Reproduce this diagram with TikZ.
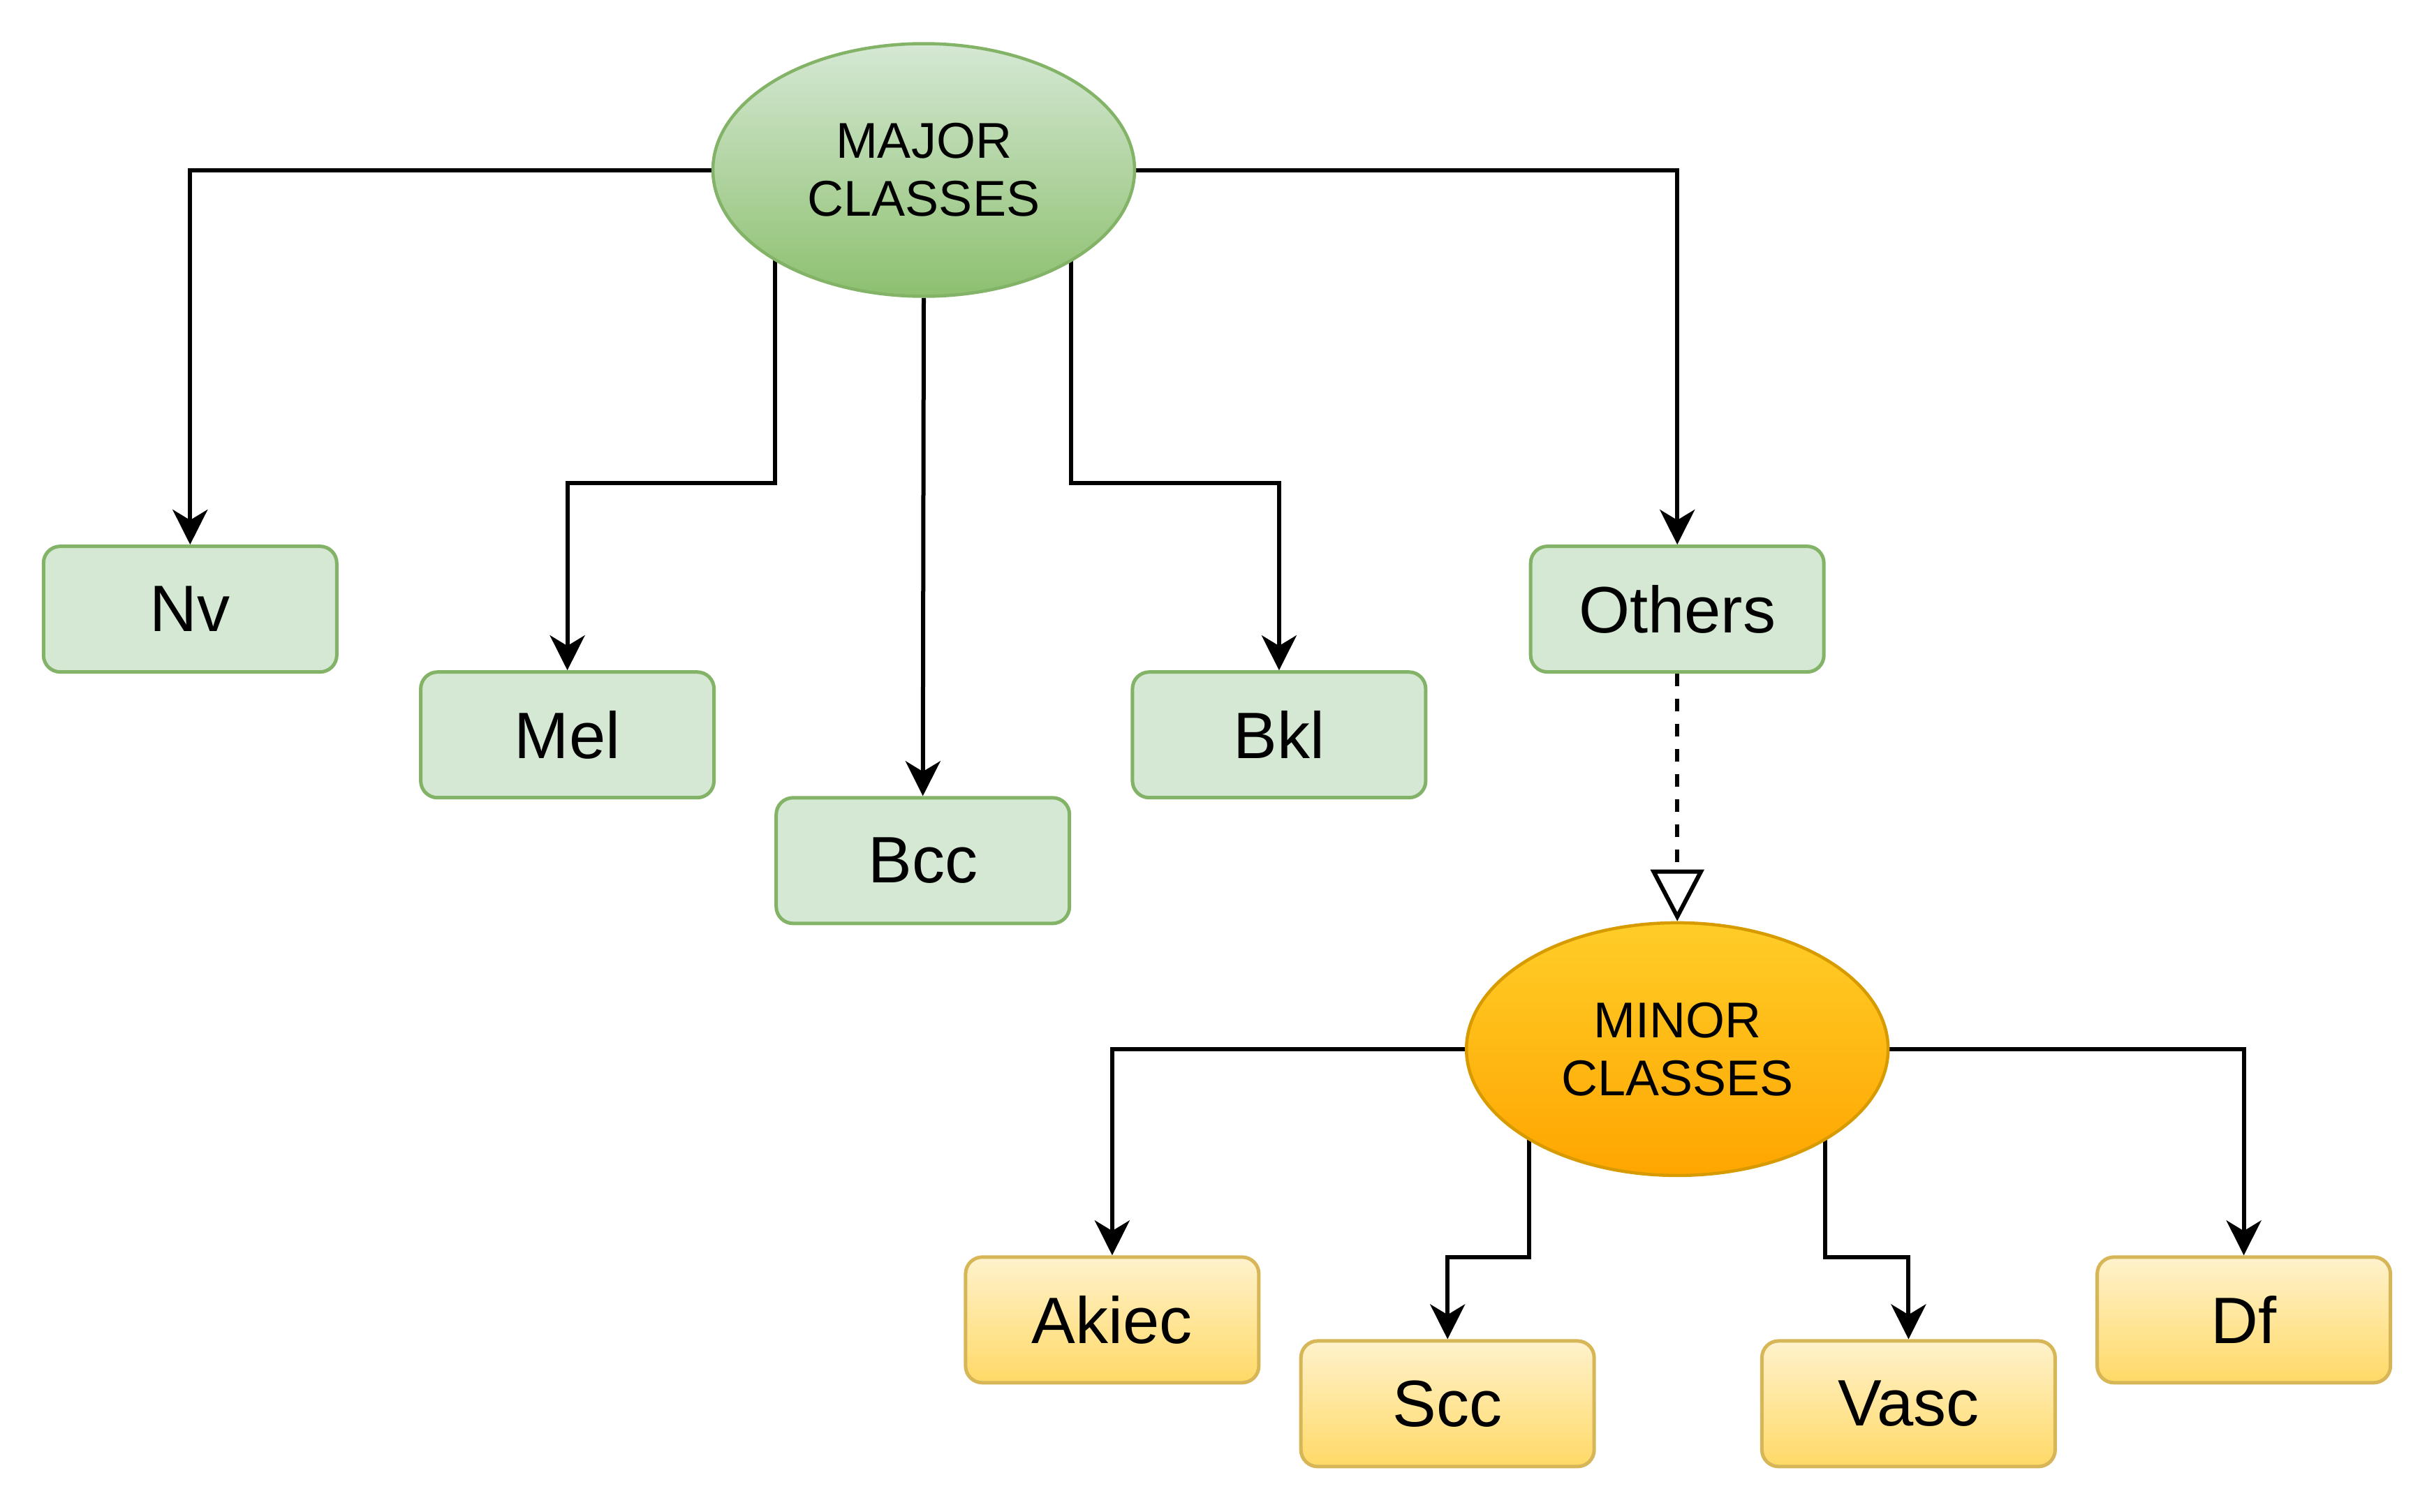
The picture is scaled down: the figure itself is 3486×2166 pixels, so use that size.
\documentclass[tikz,border=0pt]{standalone}
\usepackage{fontspec}
\setmainfont{Liberation Sans}
\usetikzlibrary{arrows.meta,shapes.geometric,backgrounds}
\definecolor{gfill}{HTML}{D5E8D4}
\definecolor{gstroke}{HTML}{82B366}
\definecolor{ggrad}{HTML}{8DC06F}
\definecolor{yfill}{HTML}{FFF2CC}
\definecolor{ygrad}{HTML}{FFD966}
\definecolor{ystroke}{HTML}{D6B656}
\definecolor{ofill}{HTML}{FFCD28}
\definecolor{ograd}{HTML}{FFA500}
\definecolor{ostroke}{HTML}{D79B00}
\tikzset{
  greenbox/.style={draw=gstroke, fill=gfill, line width=5pt, rounded corners=24pt,
    minimum width=420pt, minimum height=180pt, inner sep=0pt,
    font=\fontsize{94}{100}\selectfont},
  yellowbox/.style={draw=ystroke, top color=yfill, bottom color=ygrad, line width=5pt, rounded corners=24pt,
    minimum width=420pt, minimum height=180pt, inner sep=0pt,
    font=\fontsize{94}{100}\selectfont},
  bigell/.style={ellipse, line width=4.5pt, minimum width=604pt, minimum height=362pt, inner sep=0pt,
    align=center, font=\fontsize{72}{83}\selectfont},
  conn/.style={line width=6pt, -{Stealth[length=50pt, width=50pt, inset=15pt]}},
  dashconn/.style={line width=6pt, dash pattern=on 18pt off 18pt, -{Triangle[fill=white, length=74pt, width=76pt]}}
}
\begin{document}
\begin{tikzpicture}[x=1pt, y=-1pt]
\useasboundingbox (0,0) rectangle (3486,2166);
% nodes
\node[bigell, draw=gstroke, top color=gfill, bottom color=ggrad] (MA) at (1323,243.5) {MAJOR\\CLASSES};
\node[greenbox] (Nv) at (272.3,872.6) {Nv};
\node[greenbox] (Mel) at (812.6,1052.7) {Mel};
\node[greenbox] (Bcc) at (1321.7,1232.8) {Bcc};
\node[greenbox] (Bkl) at (1831.9,1052.7) {Bkl};
\node[greenbox] (Oth) at (2402.2,872.6) {Others};
\node[bigell, draw=ostroke, top color=ofill, bottom color=ograd] (MI) at (2402.2,1502.9) {MINOR\\CLASSES};
\node[yellowbox] (Ak) at (1592.9,1890.8) {Akiec};
\node[yellowbox] (Scc) at (2073.2,2010.9) {Scc};
\node[yellowbox] (Vasc) at (2733.4,2010.9) {Vasc};
\node[yellowbox] (Df) at (3213.6,1890.8) {Df};
% connectors
\begin{pgfonlayer}{background}
\fill[white] (0,0) rectangle (3486,2166);
\draw[conn] (MA.west) -| (Nv.north);
\draw[conn] ([xshift=-213pt]MA.center) -- ++(0,448) -| (Mel.north);
\draw[conn] (MA.south) -- (Bcc.north);
\draw[conn] ([xshift=211pt]MA.center) -- ++(0,448) -| (Bkl.north);
\draw[conn] (MA.east) -| (Oth.north);
\draw[dashconn] (Oth.south) -- (MI.north);
\draw[conn] (MI.west) -| (Ak.north);
\draw[conn] ([xshift=-212pt]MI.center) -- ++(0,298) -| (Scc.north);
\draw[conn] ([xshift=212pt]MI.center) -- ++(0,298) -| (Vasc.north);
\draw[conn] (MI.east) -| (Df.north);
\end{pgfonlayer}
\end{tikzpicture}
\end{document}
